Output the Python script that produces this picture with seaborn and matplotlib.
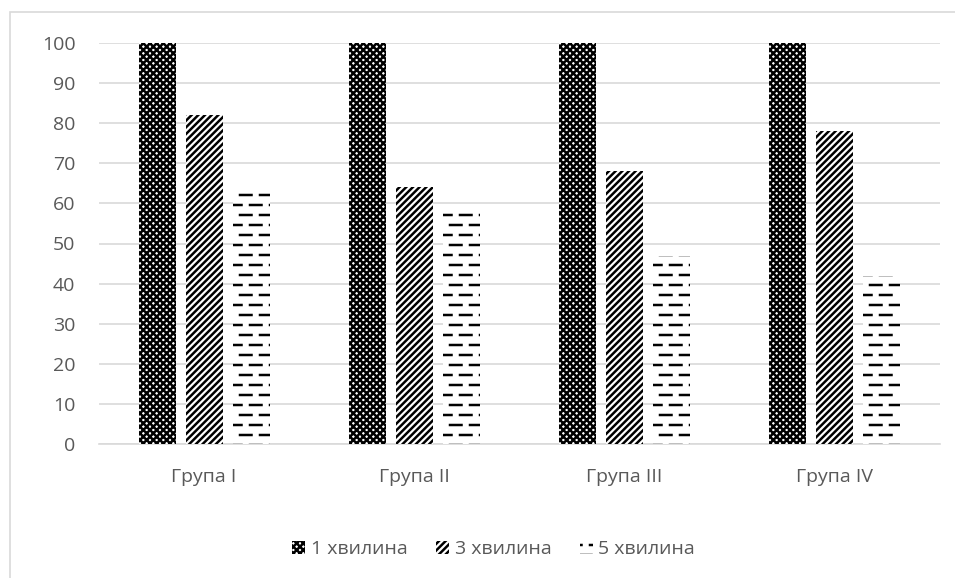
import numpy as np
import pandas as pd
import matplotlib
matplotlib.use("Agg")
import matplotlib.pyplot as plt
from matplotlib import hatch as mhatch
from matplotlib.path import Path
from matplotlib.patches import Patch, Rectangle
import seaborn as sns

# --- data -------------------------------------------------------------
groups = ["Група I", "Група II", "Група III", "Група IV"]
series = ["1 хвилина", "3 хвилина", "5 хвилина"]
min1 = [100, 100, 100, 100]
min3 = [82, 64, 68, 78]
min5 = [64, 58, 47, 42]
yticks = [0, 10, 20, 30, 40, 50, 60, 70, 80, 90, 100]


# --- dashed horizontal hatch (replaces the solid "-" rows) ---------------
class DashedRowHatch(mhatch.HatchPatternBase):
    rows_per_unit = 10
    dashes_per_row = 5
    dash_len = 0.115

    def __init__(self, hatch, density):
        self.num_rows = self.rows_per_unit if ('-' in hatch or '+' in hatch) else 0
        self.num_vertices = self.num_rows * self.dashes_per_row * 2

    def set_vertices_and_codes(self, vertices, codes):
        rows, step = np.linspace(0.0, 1.0, self.num_rows, False, retstep=True)
        rows = rows + step / 2.0
        period = 1.0 / self.dashes_per_row
        i = 0
        for r, y in enumerate(rows):
            shift = 0.0 if r % 2 == 0 else period / 2.0
            for d in range(self.dashes_per_row):
                x0 = d * period + shift
                x1 = min(x0 + self.dash_len, 1.0)
                vertices[i] = (x0, y)
                vertices[i + 1] = (x1, y)
                codes[i] = Path.MOVETO
                codes[i + 1] = Path.LINETO
                i += 2


mhatch._hatch_types[0] = DashedRowHatch

# --- style ------------------------------------------------------------
sns.set_theme(style="white")
plt.rcParams["font.family"] = ["Open Sans", "DejaVu Sans"]
plt.rcParams["hatch.linewidth"] = 1.8
plt.rcParams["hatch.color"] = "black"

text_color = "#595959"
grid_color = "#d9d9d9"
fs = 14

df = pd.DataFrame({
    "group": groups * 3,
    "series": [series[0]] * 4 + [series[1]] * 4 + [series[2]] * 4,
    "value": min1 + min3 + min5,
})

fig = plt.figure(figsize=(9.55, 5.78), dpi=100)
ax = fig.add_axes([99 / 955, 134 / 578, 841 / 955, 401 / 578])

sns.barplot(
    data=df, x="group", y="value", hue="series", order=groups,
    hue_order=series, palette=["white", "white", "white"],
    width=0.671, gap=0.21, legend=False, ax=ax, zorder=3,
)

hatches = ["xxxxx", "/////", "-"]
for cont, h in zip(ax.containers, hatches):
    for bar in cont:
        bar.set_hatch(h)
        bar.set_facecolor("white")
        bar.set_edgecolor("black")
        bar.set_linewidth(0)

ax.set_xlim(-0.5, 3.5)
ax.set_ylim(0, 100)
ax.set_yticks(yticks)
ax.yaxis.grid(True, color=grid_color, linewidth=1.2, zorder=0)
ax.set_axisbelow(True)
for s in ["top", "right", "left"]:
    ax.spines[s].set_visible(False)
ax.spines["bottom"].set_color(grid_color)
ax.spines["bottom"].set_linewidth(1.2)
ax.tick_params(axis="y", length=0, pad=17, labelsize=fs, labelcolor=text_color)
ax.tick_params(axis="x", length=0, pad=17, labelsize=fs, labelcolor=text_color)
ax.set_xlabel("")
ax.set_ylabel("")

# legend below the plot
handles = [Patch(facecolor="white", edgecolor="black", hatch=h, linewidth=0)
           for h in hatches]
fig.legend(handles, series, loc="center",
           bbox_to_anchor=(493.5 / 955, 1 - 549 / 578),
           ncol=3, frameon=False, fontsize=fs, labelcolor=text_color,
           handlelength=0.67, handleheight=0.67, handletextpad=0.3,
           columnspacing=1.45)

# chart-area border (top and left edges visible)
fig.add_artist(Rectangle((10 / 955, -0.2), 1.2, 1.2 - 12 / 578,
                         transform=fig.transFigure, fill=False,
                         edgecolor=grid_color, linewidth=1.2))

fig.savefig("out.png", dpi=100)
